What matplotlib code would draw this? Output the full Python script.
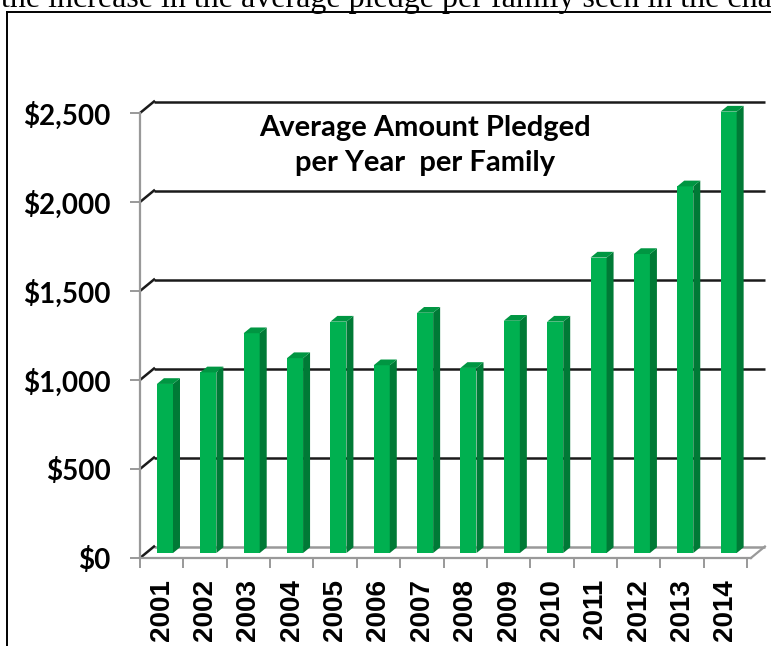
import matplotlib.pyplot as plt
from matplotlib.patches import Polygon
from matplotlib.lines import Line2D

years = ['2001', '2002', '2003', '2004', '2005', '2006', '2007',
         '2008', '2009', '2010', '2011', '2012', '2013', '2014']
pledge = [950, 1015, 1235, 1095, 1300, 1055, 1350,
          1040, 1305, 1300, 1660, 1680, 2060, 2480]
yticks = [0, 500, 1000, 1500, 2000, 2500]
ytick_labels = ['$0', '$500', '$1,000', '$1,500', '$2,000', '$2,500']

W, H = 771, 646
fig = plt.figure(figsize=(W / 100, H / 100), dpi=100)

# clipped caption line from the page above the chart
fig.text(1 / W, 1 - 7 / H, 'the increase in the average pledge per family seen in the chart',
         family='Liberation Serif', fontsize=23, va='baseline', ha='left')

# page frame
fig.add_artist(Line2D([7 / W, 7 / W], [0, 1 - 12 / H], color='black', lw=1.4))
fig.add_artist(Line2D([7 / W, 1], [1 - 12 / H, 1 - 12 / H], color='black', lw=1.4))

ax = fig.add_axes([140 / W, (H - 558) / H, (747 - 140) / W, (558 - 113) / H])
ax.set_xlim(-0.5, 13.5)
ax.set_ylim(0, 2500)

# pseudo 3D depth offsets (x in categories, y in dollars)
DX, DY = 0.323, 64.6
d0, d1 = 0.43, 0.93
x_end = 13.59

# back wall gridlines + left side wall diagonals
for v in yticks:
    c = '#999999' if v == 0 else '#1a1a1a'
    ax.plot([-0.5 + DX, x_end + DX], [v + DY, v + DY], color=c, lw=1.8,
            clip_on=False, zorder=1, solid_capstyle='butt')
    ax.plot([-0.5, -0.5 + DX], [v, v + DY], color='#1a1a1a', lw=1.8,
            clip_on=False, zorder=1)

# floor front edge and right edge
ax.plot([-0.5, x_end], [0, 0], color='#999999', lw=1.6, clip_on=False, zorder=1)
ax.plot([x_end, x_end + DX], [0, DY], color='#999999', lw=1.6, clip_on=False, zorder=1)

# bars: front face, side face, top face
bw = 0.37
xs = [i - 0.108 + d0 * DX - 0.14 for i in range(len(years))]
bottom = d0 * DY
depth_x = (d1 - d0) * DX
depth_y = (d1 - d0) * DY
ax.bar(xs, pledge, width=bw, bottom=bottom, align='edge', color='#00b050',
       edgecolor='none', zorder=3, clip_on=False)
for x, v in zip(xs, pledge):
    xr = x + bw
    top = bottom + v
    side = Polygon([(xr, bottom), (xr + depth_x, bottom + depth_y),
                    (xr + depth_x, top + depth_y), (xr, top)],
                   closed=True, fc='#007a36', ec='none', zorder=3, clip_on=False)
    lid = Polygon([(x, top), (x + depth_x, top + depth_y),
                   (xr + depth_x, top + depth_y), (xr, top)],
                  closed=True, fc='#009642', ec='none', zorder=3, clip_on=False)
    ax.add_patch(side)
    ax.add_patch(lid)

# axes styling
for s in ['top', 'right']:
    ax.spines[s].set_visible(False)
ax.spines['bottom'].set_visible(False)
ax.spines['left'].set_color('#999999')
ax.spines['left'].set_linewidth(1.6)

ax.set_yticks(yticks)
ax.set_yticklabels(ytick_labels, family='Lato', fontweight='bold', fontsize=20)
ax.tick_params(axis='y', length=7, width=1.4, color='#999999', pad=14)

ax.set_xticks([i - 0.5 for i in range(len(years) + 1)])
ax.set_xticklabels([])
ax.tick_params(axis='x', which='major', length=7, width=1.4, color='#999999')
ax.set_xticks(range(len(years)), minor=True)
ax.set_xticklabels(years, minor=True, rotation=90, family='Liberation Sans',
                   fontweight='bold', fontsize=20)
ax.tick_params(axis='x', which='minor', length=0, pad=15)

ax.set_facecolor('none')

fig.text(425 / W, 1 - 128 / H, 'Average Amount Pledged', family='Lato',
         fontweight='bold', fontsize=21, ha='center', va='center')
fig.text(425 / W, 1 - 163 / H, 'per Year  per Family', family='Lato',
         fontweight='bold', fontsize=21, ha='center', va='center')

fig.savefig('out.png', dpi=100)
